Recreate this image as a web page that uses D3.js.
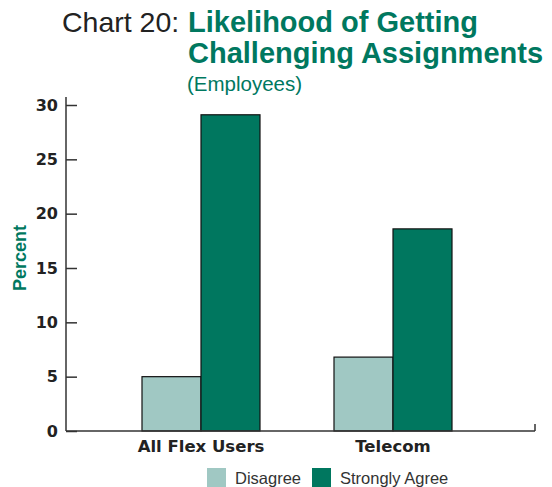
<!DOCTYPE html>
<html lang="en">
<head>
<meta charset="UTF-8">
<title>Chart 20</title>
<script src="https://cdn.jsdelivr.net/npm/d3@7"></script>
<style>
    body { margin: 0; background: #fff; }
    text { font-family: "Liberation Sans", Arial, sans-serif; }
    .wide { font-family: "DejaVu Sans", sans-serif; font-weight: bold; }
</style>
</head>
<body>
<div id="chart"></div>
<script>
const categories = ["All Flex Users", "Telecom"];
const seriesNames = ["Disagree", "Strongly Agree"];
const disagree = [5.0, 6.8];
const stronglyAgree = [29.1, 18.6];
const yTicks = [0, 5, 10, 15, 20, 25, 30];

const colors = ["#a0c8c3", "#00775f"],
      green = "#00785f";

const W = 552, H = 487;
const svg = d3.select("#chart").append("svg")
    .attr("width", W).attr("height", H);

// title
svg.append("text").attr("x", 62).attr("y", 32)
    .attr("fill", "#222").style("font-size", "28.5px").text("Chart 20:");
svg.append("text").attr("x", 188).attr("y", 32)
    .attr("fill", green).style("font-size", "29px").style("font-weight", "bold")
    .text("Likelihood of Getting");
svg.append("text").attr("x", 188).attr("y", 63)
    .attr("fill", green).style("font-size", "29px").style("font-weight", "bold")
    .text("Challenging Assignments");
svg.append("text").attr("x", 187).attr("y", 91)
    .attr("fill", green).style("font-size", "20.5px")
    .text("(Employees)");

const plotL = 66, plotR = 535, plotT = 105, plotB = 431;

const y = d3.scaleLinear().domain([0, 30]).range([plotB, plotT]);
const x0 = d3.scaleBand().domain(categories).range([105, 489]);
const x1 = d3.scaleBand().domain(seriesNames).range([0, 118]);

const rows = categories.map((c, i) => ({ cat: c, vals: [disagree[i], stronglyAgree[i]] }));

// bars
const g = svg.append("g");
rows.forEach(r => {
    const cx = x0(r.cat) + x0.bandwidth() / 2 - 59;
    r.vals.forEach((v, j) => {
        g.append("rect")
            .attr("x", cx + x1(seriesNames[j]))
            .attr("y", y(v))
            .attr("width", x1.bandwidth())
            .attr("height", plotB - y(v))
            .attr("fill", colors[j])
            .attr("stroke", "#111")
            .attr("stroke-width", 1.2);
    });
});

// y axis (ticks pointing inward)
const yAxis = svg.append("g").attr("transform", `translate(${plotL},0)`)
    .call(d3.axisRight(y).tickValues(yTicks).tickSize(11).tickFormat(""));
yAxis.select(".domain").remove();
yAxis.selectAll(".tick line").attr("stroke", "#333").attr("stroke-width", 1.5);
svg.append("line").attr("x1", plotL).attr("x2", plotL).attr("y1", 97).attr("y2", plotB)
    .attr("stroke", "#333").attr("stroke-width", 1.5);

svg.selectAll(".ylab").data(yTicks).enter().append("text")
    .attr("class", "ylab wide")
    .attr("x", 58).attr("y", d => y(d)).attr("dy", "0.36em")
    .attr("text-anchor", "end")
    .attr("fill", "#222").style("font-size", "16px")
    .text(d => d);

// x axis
svg.append("line").attr("x1", plotL).attr("x2", plotR).attr("y1", plotB).attr("y2", plotB)
    .attr("stroke", "#333").attr("stroke-width", 1.5);
svg.append("line").attr("x1", plotR).attr("x2", plotR).attr("y1", plotB).attr("y2", plotB - 7)
    .attr("stroke", "#333").attr("stroke-width", 1.5);

svg.selectAll(".xlab").data(categories).enter().append("text")
    .attr("class", "xlab wide")
    .attr("x", d => x0(d) + x0.bandwidth() / 2).attr("y", 452)
    .attr("text-anchor", "middle")
    .attr("fill", "#222").style("font-size", "16.5px")
    .text(d => d);

// y title
svg.append("text")
    .attr("transform", "translate(26,258) rotate(-90)")
    .attr("text-anchor", "middle")
    .attr("fill", green).style("font-size", "18px").style("font-weight", "bold")
    .text("Percent");

// legend
const legendX = [207, 312];
const lg = svg.selectAll(".legend").data(seriesNames).enter().append("g")
    .attr("transform", (d, i) => `translate(${legendX[i]},468)`);
lg.append("rect").attr("width", 19).attr("height", 19).attr("fill", (d, i) => colors[i]);
lg.append("text").attr("x", 28).attr("y", 16)
    .attr("fill", "#333").style("font-size", "16.5px")
    .text(d => d);
</script>
</body>
</html>
